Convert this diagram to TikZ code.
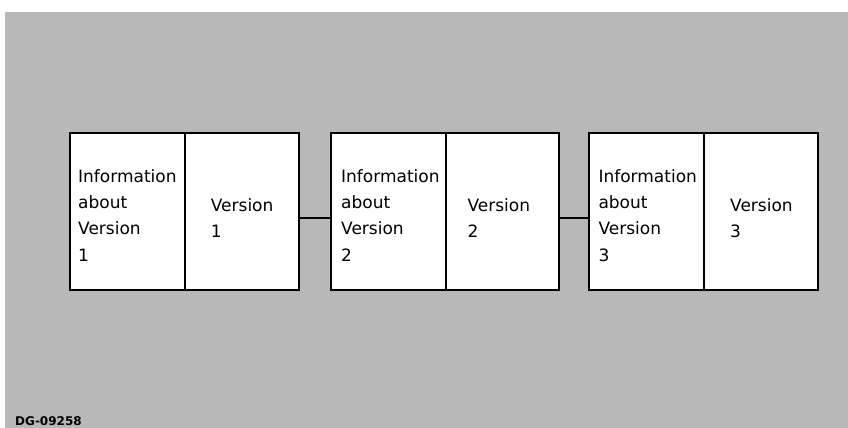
\documentclass[tikz,border=0pt]{standalone}
\usepackage{fontspec}
\setmainfont{DejaVu Sans}
\begin{document}
\begin{tikzpicture}[x=1pt,y=-1pt,
  cell/.style={draw=black,line width=2pt,fill=white},
  link/.style={draw=black,line width=1.6pt},
  celltext/.style={anchor=base west,inner sep=0pt,align=left,
    font=\fontsize{17}{26.3}\selectfont},
  tag/.style={anchor=base west,inner sep=0pt,font=\bfseries\fontsize{12}{14}\selectfont}]
  % page and shaded backdrop
  \useasboundingbox (0,0) rectangle (848,428);
  \fill[white] (0,0) rectangle (848,428);
  \fill[black!28] (5,12) rectangle (848,428);

  % record 1 (text nodes are placed by the baseline of their last line)
  \draw[cell] (69.5,133) rectangle (184.7,290);
  \draw[cell] (184.7,133) rectangle (299.3,290);
  \coordinate (b1r) at (299.3,218);
  \node[celltext] (info1) at (78,261) {Information\\about\\Version\\1};
  \node[celltext] (ver1) at (210.7,237.5) {Version\\1};

  % record 2
  \draw[cell] (331.3,133) rectangle (445.7,290);
  \draw[cell] (445.7,133) rectangle (558.7,290);
  \coordinate (b2l) at (331.3,218);
  \coordinate (b2r) at (558.7,218);
  \node[celltext] (info2) at (341,261) {Information\\about\\Version\\2};
  \node[celltext] (ver2) at (467.3,237.5) {Version\\2};

  % record 3
  \draw[cell] (589.3,133) rectangle (704.3,290);
  \draw[cell] (704.3,133) rectangle (817.7,290);
  \coordinate (b3l) at (589.3,218);
  \node[celltext] (info3) at (598.3,261) {Information\\about\\Version\\3};
  \node[celltext] (ver3) at (730,237.5) {Version\\3};

  % links between records
  \draw[link] (b1r) -- (b2l);
  \draw[link] (b2r) -- (b3l);

  % figure tag
  \node[tag] (figtag) at (15,425) {DG-09258};
\end{tikzpicture}
\end{document}
